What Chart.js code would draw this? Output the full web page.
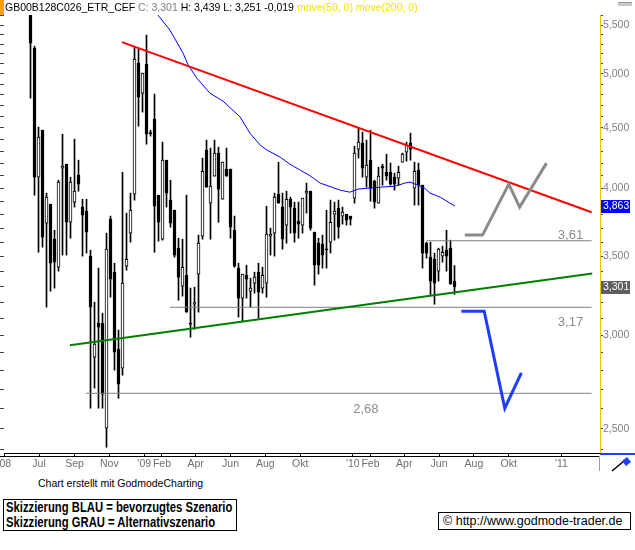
<!DOCTYPE html>
<html>
<head>
<meta charset="utf-8">
<script src="https://cdn.jsdelivr.net/npm/chart.js@4.4.1/dist/chart.umd.min.js"></script>
<style>
  html, body { margin: 0; padding: 0; background: #fff; }
  #wrap { position: relative; width: 635px; height: 550px; overflow: hidden; font-family: Arial, "Liberation Sans", sans-serif; }
  #c { position: absolute; left: 0; top: 0; }
  #tag { position: absolute; left: 0; top: 0; width: 4px; height: 15px; background: #f5a00a; }
  #hdr { position: absolute; left: 5px; top: 1px; font-size: 10.5px; line-height: 13px; white-space: nowrap; color: #000; }
  #hdr .grey { color: #808080; }
  #hdr .yel { color: #f2e600; }
  #scroll { position: absolute; left: 618px; top: 2px; width: 14px; height: 3px; background: #c8c8c8; border-top: 1px solid #9a9a9a; }
  #made { position: absolute; left: 38px; top: 477px; font-size: 10.5px; line-height: 12px; white-space: nowrap; }
  #legend { position: absolute; left: 3px; top: 499px; width: 234px; height: 32px; box-sizing: border-box; border: 1px solid #000; padding: 0 2px; overflow: hidden; }
  #legend span { display: inline-block; font: bold 14px Arial, "Liberation Sans", sans-serif; line-height: 15px; white-space: nowrap;
                 transform: scaleX(0.805); transform-origin: 0 0; }
  #copy { position: absolute; left: 438px; top: 512px; width: 193px; height: 18px; box-sizing: border-box; border: 1px solid #000; padding-left: 4px;
          font-size: 12.5px; line-height: 16px; white-space: nowrap; }
</style>
</head>
<body>
<div id="wrap">
  <canvas id="c" width="635" height="475"></canvas>
  <div id="tag"></div>
  <div id="hdr"></div>
  <div id="scroll"></div>
  <div id="made">Chart erstellt mit GodmodeCharting</div>
  <div id="legend"><span>Skizzierung BLAU = bevorzugtes Szenario<br>Skizzierung GRAU = Alternativszenario</span></div>
  <div id="copy">© http://www.godmode-trader.de</div>
</div>
<script>
/* ───── data: weekly candles, first week 2008-06-16 ───── */

const TITLE = 'GB00B128C026_ETR_CEF';
const FIRST_WEEK = '2008-06-16';

const OPEN = [
  5.70, 5.259, 4.087, 4.480, 3.736, 3.877, 3.621, 3.428, 4.160, 4.192,
  3.743, 3.893, 4.103, 3.855, 3.825, 3.503, 2.876, 3.073, 3.073, 2.503,
  3.765, 3.395, 2.921, 2.815, 3.435, 3.664, 3.954, 5.107, 4.816, 5.097,
  4.454, 4.578, 3.946, 3.621, 4.225, 3.908, 3.832, 3.558, 3.304, 3.375,
  3.073, 3.190, 3.382, 3.642, 4.309, 3.885, 4.095, 4.284, 3.915, 4.152,
  4.152, 3.685, 3.422, 3.227, 3.375, 3.271, 3.323, 3.395, 3.291, 3.323,
  3.642, 3.664, 3.954, 3.855, 3.722, 3.915, 3.847, 3.751, 3.722, 3.962,
  3.977, 3.671, 3.593, 3.586, 3.551, 3.600, 3.802, 3.847, 3.788, 3.802,
  3.788, 3.923, 4.317, 4.368, 4.087, 4.225, 4.056, 3.885, 4.176, 4.127,
  4.127, 4.087, 4.079, 4.209, 4.292, 4.368, 4.000, 4.144, 4.024, 3.593,
  3.496, 3.482, 3.402, 3.503, 3.544, 3.558, 3.336
];
const HIGH = [
  5.75, 5.279, 4.507, 4.480, 3.962, 3.877, 3.685, 4.063, 4.445, 4.192,
  4.087, 4.402, 4.225, 3.915, 3.915, 3.544, 3.202, 3.422, 3.134, 3.664,
  3.788, 3.455, 3.032, 4.127, 3.810, 3.962, 5.269, 5.259, 5.008, 5.394,
  4.480, 4.807, 3.946, 4.377, 4.225, 4.063, 3.832, 3.628, 3.621, 3.946,
  3.291, 3.297, 3.650, 4.242, 4.394, 4.326, 4.394, 4.334, 4.209, 4.326,
  4.152, 3.788, 3.455, 3.382, 3.442, 3.356, 3.395, 3.455, 3.428, 3.862,
  3.700, 3.962, 4.209, 3.962, 3.977, 3.931, 3.893, 3.893, 3.923, 4.040,
  3.977, 3.671, 3.628, 3.650, 3.832, 3.908, 3.893, 3.908, 3.855, 3.802,
  3.788, 4.342, 4.498, 4.463, 4.394, 4.480, 4.063, 4.168, 4.192, 4.275,
  4.201, 4.119, 4.176, 4.284, 4.377, 4.454, 4.209, 4.201, 4.024, 3.600,
  3.600, 3.524, 3.558, 3.572, 3.685, 3.614, 3.439
];
const LOW = [
  4.769, 3.946, 3.530, 3.565, 3.171, 3.271, 3.291, 3.402, 3.510, 3.510,
  3.628, 3.855, 3.977, 3.503, 3.524, 2.603, 2.707, 2.603, 2.603, 2.412,
  3.233, 2.804, 2.654, 2.776, 3.408, 3.600, 3.908, 4.515, 4.641, 4.359,
  4.428, 3.530, 3.607, 3.614, 3.855, 3.707, 3.496, 3.214, 3.240, 3.140,
  2.990, 3.037, 3.140, 3.621, 4.008, 3.621, 4.095, 3.743, 3.915, 4.095,
  3.628, 3.428, 3.110, 3.085, 3.227, 3.171, 3.259, 3.103, 3.259, 3.233,
  3.510, 3.503, 3.885, 3.551, 3.593, 3.664, 3.600, 3.628, 3.664, 3.810,
  3.685, 3.310, 3.382, 3.422, 3.422, 3.524, 3.614, 3.628, 3.729, 3.722,
  3.722, 3.885, 4.242, 4.087, 4.008, 3.900, 3.847, 3.885, 4.024, 4.063,
  4.024, 3.985, 4.024, 4.209, 4.217, 4.225, 3.870, 3.870, 3.422, 3.489,
  3.246, 3.189, 3.336, 3.462, 3.402, 3.315, 3.251
];
const CLOSE = [
  5.310, 4.087, 4.419, 3.635, 3.931, 3.455, 3.462, 4.048, 4.176, 3.743,
  4.048, 3.977, 4.032, 3.795, 3.671, 3.171, 2.950, 3.049, 2.675, 3.551,
  3.349, 2.904, 2.728, 3.323, 3.482, 3.832, 5.147, 4.779, 5.008, 4.445,
  4.450, 3.862, 3.743, 4.225, 3.962, 3.736, 3.510, 3.362, 3.428, 3.140,
  3.068, 3.200, 3.593, 4.135, 4.008, 4.016, 4.284, 3.993, 4.209, 4.095,
  3.707, 3.435, 3.227, 3.382, 3.349, 3.291, 3.362, 3.265, 3.375, 3.657,
  3.657, 3.931, 3.885, 3.621, 3.915, 3.855, 3.664, 3.729, 3.923, 3.977,
  3.700, 3.442, 3.442, 3.510, 3.546, 3.743, 3.825, 3.707, 3.817, 3.758,
  3.765, 4.284, 4.377, 4.160, 4.184, 4.000, 3.893, 4.095, 4.160, 4.095,
  4.032, 4.032, 4.127, 4.275, 4.351, 4.317, 4.135, 4.024, 3.524, 3.524,
  3.336, 3.323, 3.551, 3.530, 3.503, 3.320, 3.301
];

// moving average (blue)
const MA_DATES = [
  '2009-01-11', '2009-01-25', '2009-02-15', '2009-03-10', '2009-03-19', '2009-04-03',
  '2009-04-26', '2009-05-19', '2009-06-18', '2009-07-05', '2009-07-23', '2009-08-04',
  '2009-08-27', '2009-09-13', '2009-10-01', '2009-10-18', '2009-11-05', '2009-12-10',
  '2009-12-27', '2010-01-10', '2010-02-18', '2010-03-16', '2010-04-02', '2010-04-11',
  '2010-04-25', '2010-05-07', '2010-05-16', '2010-06-03', '2010-06-20', '2010-06-29'
];
const MA_VALUES = [
  5.719, 5.609, 5.447, 5.207, 5.087, 4.959,
  4.816, 4.741, 4.596, 4.454, 4.351, 4.309,
  4.250, 4.192, 4.144, 4.099, 4.040, 3.985,
  3.969, 3.993, 4.008, 4.016, 4.040, 4.048,
  4.024, 4.000, 3.962, 3.931, 3.885, 3.863
];

// trend lines
const RESIST_DATES = ['2008-11-23', '2011-02-23'];
const RESIST_VALUES = [5.320, 3.817];
const SUPPORT_DATES = ['2008-08-24', '2011-02-24'];
const SUPPORT_VALUES = [2.944, 3.387];

// horizontal marks
const LEVELS = [3.61, 3.17, 2.68];
const LEVEL_FROM = ['2010-05-10', '2009-02-15', '2008-09-21'];
const LEVEL_TO = '2011-02-23';
const LEVEL_TEXT_AT = ['2011-01-17', '2011-01-17', '2010-01-24'];

// scenario sketches
const GREY_DATES = ['2010-07-16', '2010-08-16', '2010-10-01', '2010-10-20', '2010-12-06'];
const GREY_VALUES = [3.650, 3.650, 4.032, 3.855, 4.201];
const BLUE_DATES = ['2010-07-10', '2010-08-19', '2010-09-24', '2010-10-23'];
const BLUE_VALUES = [3.146, 3.146, 2.603, 2.789];

// axes
const X_TICK_DATES = [
  '2008-05-01', '2008-07-01', '2008-09-01', '2008-11-01', '2009-01-01', '2009-02-01',
  '2009-04-01', '2009-06-01', '2009-08-01', '2009-10-01', '2010-01-01', '2010-02-01',
  '2010-04-01', '2010-06-01', '2010-08-01', '2010-10-01', '2011-01-01'
];
const X_TICK_LABELS = [
  "'08", 'Jul', 'Sep', 'Nov', "'09", 'Feb', 'Apr', 'Jun', 'Aug', 'Okt', "'10", 'Feb',
  'Apr', 'Jun', 'Aug', 'Okt', "'11"
];
const Y_LABELS = [2.5, 3.0, 3.5, 4.0, 4.5, 5.0, 5.5];
const Y_MIN = 2.385;
const Y_MAX = 5.61;
const LAST_MA = 3.863;

/* ───── helpers ───── */

const T0 = Date.parse(FIRST_WEEK);
const dayNum = s => (Date.parse(s) - T0) / 864e5;
const de = (v, d) => v.toFixed(d).replace('.', ',');
const pts = (dates, vals) => dates.map((d, i) => ({ x: dayNum(d), y: vals[i] }));

const FONT = 'Arial, "Liberation Sans", sans-serif';
const Y_MINOR = [];
for (let v = 24; v <= 56; v++) Y_MINOR.push(v / 10);

// header line
const n = CLOSE.length;
document.getElementById('hdr').innerHTML =
  `${TITLE} <span class="grey">C: ${de(CLOSE[n - 1], 3)}</span> ` +
  `H: ${de(HIGH[n - 1], 3)} L: ${de(LOW[n - 1], 3)} ${de(CLOSE[n - 1] - CLOSE[n - 2], 3)} ` +
  `<span class="yel">move(50, 0) move(200, 0)</span>`;

/* ───── datasets ───── */

const weekX = OPEN.map((_, i) => i * 7);
const isUp = i => CLOSE[i] >= OPEN[i];

const line = (data, color, width, order) => ({
  type: 'line', data, borderColor: color, borderWidth: width,
  pointRadius: 0, fill: false, tension: 0, order, clip: 0
});

const datasets = [
  {
    type: 'bar', data: weekX.map((x, i) => ({ x, y: [LOW[i], HIGH[i]] })),
    backgroundColor: '#000', barThickness: 1, grouped: false, order: 6, clip: 0
  },
  {
    type: 'bar', data: weekX.map((x, i) => ({ x, y: [OPEN[i], CLOSE[i]] })),
    backgroundColor: ctx => isUp(ctx.dataIndex) ? '#fff' : '#000',
    borderColor: '#000', borderWidth: 1, borderSkipped: false,
    barThickness: 3, minBarLength: 1, grouped: false, order: 5, clip: 0
  },
  line(pts(MA_DATES, MA_VALUES), '#0000ff', 1, 4),
  ...LEVELS.map((v, i) => line(pts([LEVEL_FROM[i], LEVEL_TO], [v, v]), '#808080', 1, 3)),
  line(pts(RESIST_DATES, RESIST_VALUES), '#ff0000', 2, 2),
  line(pts(SUPPORT_DATES, SUPPORT_VALUES), '#008000', 2, 2),
  line(pts(GREY_DATES, GREY_VALUES), '#8a8a8a', 3, 1),
  line(pts(BLUE_DATES, BLUE_VALUES), '#1f3cff', 3, 1)
];

/* ───── extra drawing: captions, value boxes, frame bits ───── */

const LEVEL_SHIFT = [-5, 15, 16];

const extras = {
  id: 'extras',
  afterDraw(chart) {
    const { ctx, chartArea: a, scales: { x, y } } = chart;
    ctx.save();

    ctx.fillStyle = '#000';
    ctx.fillRect(0, a.bottom + 3, a.right, 1);
    ctx.fillStyle = '#1f3fff';
    ctx.fillRect(a.right, a.bottom, 35, 2);
    ctx.fillStyle = '#a0a0a0';
    ctx.fillRect(a.right - 1, a.bottom + 3, 1, 15);

    // pencil icon
    ctx.strokeStyle = '#000';
    ctx.lineWidth = 1.5;
    ctx.beginPath(); ctx.moveTo(612, 471); ctx.lineTo(624, 461); ctx.stroke();
    ctx.fillStyle = '#1f3fff';
    ctx.beginPath(); ctx.moveTo(622, 461); ctx.lineTo(627, 457); ctx.lineTo(631, 462); ctx.lineTo(626, 466); ctx.closePath(); ctx.fill();

    // level captions
    ctx.font = `13px ${FONT}`;
    ctx.fillStyle = '#8c8c8c';
    ctx.textAlign = 'center';
    ctx.textBaseline = 'middle';
    LEVELS.forEach((v, i) => {
      ctx.fillText(de(v, 2), x.getPixelForValue(dayNum(LEVEL_TEXT_AT[i])), y.getPixelForValue(v) + LEVEL_SHIFT[i]);
    });

    // value boxes on price axis
    const box = (v, bg) => {
      const py = Math.round(y.getPixelForValue(v));
      ctx.fillStyle = bg;
      ctx.fillRect(a.right + 1, py - 6, 29, 13);
      ctx.fillStyle = '#fff';
      ctx.font = `10.5px ${FONT}`;
      ctx.textAlign = 'left';
      ctx.fillText(de(v, 3), a.right + 3, py + 0.5);
    };
    box(LAST_MA, '#0000ff');
    box(CLOSE[n - 1], '#5f5f5f');

    ctx.restore();
  }
};

/* ───── chart ───── */

new Chart(document.getElementById('c'), {
  type: 'bar',
  data: { datasets },
  plugins: [extras],
  options: {
    responsive: false,
    animation: false,
    events: [],
    layout: { padding: { top: 15, left: 0, right: 0, bottom: 0 } },
    plugins: { legend: { display: false }, tooltip: { enabled: false } },
    scales: {
      x: {
        type: 'linear', offset: false,
        min: -46.375, max: 996.625,
        afterBuildTicks: s => { s.ticks = X_TICK_DATES.map(d => ({ value: dayNum(d) })); },
        afterFit: s => { s.height = 22; s.paddingLeft = 0; s.paddingRight = 0; },
        ticks: {
          autoSkip: false, maxRotation: 0, minRotation: 0, padding: 1,
          color: '#6f6f6f', font: { family: FONT, size: 10.5 },
          callback: (v, i) => X_TICK_LABELS[i]
        },
        grid: { drawOnChartArea: false, offset: false, tickLength: 4, color: '#000' },
        border: { color: '#000', width: 1 }
      },
      y: {
        type: 'logarithmic', position: 'right', min: Y_MIN, max: Y_MAX,
        afterBuildTicks: s => { s.ticks = Y_MINOR.map(v => ({ value: v })); },
        afterFit: s => { s.width = 35; s.paddingTop = 0; s.paddingBottom = 0; },
        ticks: {
          autoSkip: false, padding: 0, color: '#7f7f7f', font: { family: FONT, size: 10.5 },
          callback: v => Y_LABELS.some(l => Math.abs(l - v) < 1e-6) ? de(v, 3) : ''
        },
        grid: { drawOnChartArea: false, tickLength: 3, color: '#444' },
        border: { color: '#f2c200', width: 1 }
      },
      yl: {
        type: 'logarithmic', position: 'left', min: Y_MIN, max: Y_MAX,
        afterBuildTicks: s => { s.ticks = Y_MINOR.map(v => ({ value: v })); },
        afterFit: s => { s.width = 4; s.paddingTop = 0; s.paddingBottom = 0; },
        ticks: { display: false },
        grid: { drawOnChartArea: false, tickLength: 4, color: '#444' },
        border: { display: false }
      }
    }
  }
});
</script>
</body>
</html>
